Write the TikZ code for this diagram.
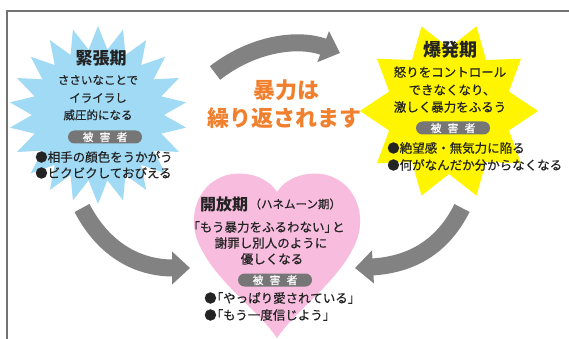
\documentclass[tikz,border=0pt]{standalone}
\usepackage{fontspec}
\setmainfont{Noto Sans CJK JP}
\newfontfamily\jpm{Noto Sans CJK JP}[FakeBold=0.5]
\usetikzlibrary{arrows.meta}
\definecolor{burstblue}{RGB}{160,218,245}
\definecolor{burstyellow}{RGB}{255,245,0}
\definecolor{heartpink}{RGB}{248,188,222}
\definecolor{arrowgray}{RGB}{130,130,130}
\definecolor{pillgray}{RGB}{118,118,118}
\definecolor{txt}{RGB}{35,35,35}
\definecolor{orangetxt}{RGB}{240,128,45}
\definecolor{framegray}{RGB}{115,115,115}
\begin{document}
\begin{tikzpicture}[x=1pt,y=-1pt,
  titletxt/.style={font=\fontsize{17}{20}\selectfont\bfseries, text=txt, inner sep=0pt},
  bodytxt/.style={font=\jpm\fontsize{12.5}{15}\selectfont, text=txt, inner sep=0pt},
  bodysm/.style={font=\jpm\fontsize{11.5}{14}\selectfont, text=txt, inner sep=0pt},
  bullettxt/.style={font=\jpm\fontsize{12.5}{15}\selectfont, text=txt, inner sep=0pt, anchor=west},
  pill/.style={fill=pillgray, text=white, rounded corners=6.5pt, minimum width=74pt,
    minimum height=13pt, inner sep=0pt, font=\jpm\fontsize{11}{13}\selectfont},
  orangetext/.style={font=\fontsize{22}{26}\selectfont\bfseries, text=orangetxt, inner sep=0pt},
  bigarrow/.style={draw=arrowgray, line width=17pt, -{Triangle[length=18pt,width=32pt]}, arrowgray}
]
\useasboundingbox (0,0) rectangle (569,339);
\fill[white] (0,0) rectangle (569,339);
% frame
\draw[framegray, line width=1.2pt] (7,339) -- (7,11) -- (569,11);

% blue burst
\fill[burstblue] (98,26) \foreach \i in {1,...,43} {
  -- ({98+(89-23*mod(\i,2))*cos(90+360/44*\i)}, {115-(89-23*mod(\i,2))*sin(90+360/44*\i)}) } -- cycle;
% yellow burst
\fill[burstyellow] (538,111) \foreach \i in {1,...,19} {
  -- ({449+(89-26*mod(\i,2))*cos(18*\i)}, {111-(89-26*mod(\i,2))*sin(18*\i)}) } -- cycle;
% heart
\fill[heartpink] (277,192) .. controls (266,175) and (242,170) .. (224,176)
  .. controls (196,186) and (188,218) .. (198,242)
  .. controls (215,282) and (255,306) .. (277,338)
  .. controls (299,306) and (339,282) .. (356,242)
  .. controls (366,218) and (358,186) .. (330,176)
  .. controls (312,170) and (288,175) .. (277,192) -- cycle;

% arrows
\coordinate (a1s) at (215,73);
\coordinate (a1e) at (340,53);
\coordinate (a2s) at (82,208);
\coordinate (a2e) at (190,268);
\coordinate (a3s) at (462,208);
\coordinate (a3e) at (355,268);
\draw[bigarrow] (a1s) .. controls (255,42) and (300,38) .. (a1e);
\draw[bigarrow] (a2s) .. controls (105,252) and (140,268) .. (a2e);
\draw[bigarrow] (a3s) .. controls (440,252) and (405,265) .. (a3e);

% blue text
\node[titletxt] (kt) at (101,58) {緊張期};
\node[bodysm] (k1) at (98,80) {ささいなことで};
\node[bodysm] (k2) at (98,98) {イライラし};
\node[bodysm] (k3) at (98,115) {威圧的になる};
\node[pill] (kp) at (105,137) {被\hspace{6pt}害\hspace{6pt}者};
\node[bullettxt] (kb1) at (35,157) {●相手の顔色をうかがう};
\node[bullettxt] (kb2) at (35,173) {●ビクビクしておびえる};

% yellow text
\node[titletxt, font=\fontsize{18}{21}\selectfont\bfseries] (bt) at (450,50) {爆発期};
\node[bodytxt] (b1) at (450,72) {怒りをコントロール};
\node[bodytxt] (b2) at (452,90) {できなくなり、};
\node[bodytxt] (b3) at (450,107) {激しく暴力をふるう};
\node[pill] (bp) at (453,128) {被\hspace{6pt}害\hspace{6pt}者};
\node[bullettxt] (bb1) at (387,148) {●絶望感・無気力に陥る};
\node[bullettxt] (bb2) at (387,165) {●何がなんだか分からなくなる};

% center text
\node[orangetext] (o1) at (286,90) {暴力は};
\node[orangetext] (o2) at (284,118) {繰り返されます};

% heart text
\node[titletxt, font=\fontsize{16}{19}\selectfont\bfseries, anchor=west] (ht) at (200,204) {開放期};
\node[inner sep=0pt, text=txt, font=\jpm\fontsize{11.5}{13}\selectfont, anchor=west] (hts) at ([xshift=1pt]ht.east) {（ハネムーン期）};
\node[bodytxt] (h1) at (266,227) {「もう暴力をふるわない」\hspace{-5pt}と};
\node[bodytxt] (h2) at (271,243) {謝罪し別人のように};
\node[bodytxt] (h3) at (272,259) {優しくなる};
\node[pill] (hp) at (275,280) {被\hspace{6pt}害\hspace{6pt}者};
\node[bullettxt] (hb1) at (204,298) {●\hspace{-6pt}「やっぱり愛されている」};
\node[bullettxt] (hb2) at (204,315) {●\hspace{-6pt}「もう一度信じよう」};
\end{tikzpicture}
\end{document}
